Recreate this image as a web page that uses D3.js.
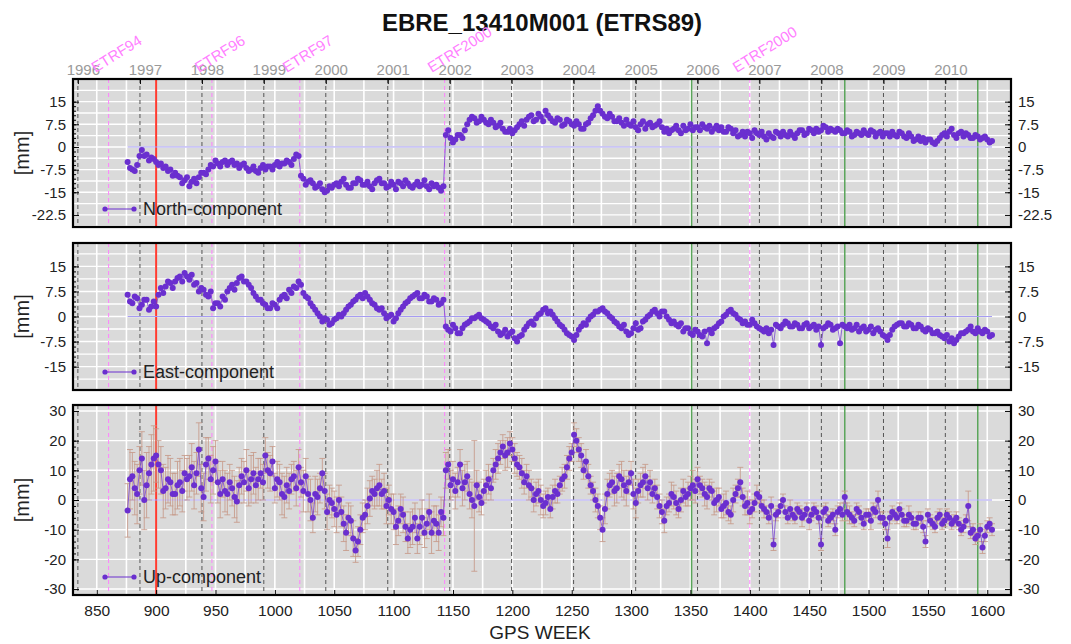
<!DOCTYPE html>
<html>
<head>
<meta charset="utf-8">
<script src="https://cdn.jsdelivr.net/npm/d3@7"></script>
<style>
  body { margin: 0; background: #fff; }
  text { font-family: "Liberation Sans", Arial, sans-serif; }
</style>
</head>
<body>
<svg id="chart" width="1071" height="644"></svg>
<script>
// solutions: "A" arrays at GPS weeks 876, 880, 884 ...,
// "B" arrays at the weeks in between (878, 882, ... 1602)
const startA = 876, startB = 878, stepWeek = 4;

const northA = [
  -5, -7.5, -6, -1, -2.5, -3.5, -5, -5.5, -6.5, -7.5,
  -8.5, -10, -11, -13, -10.5, -10, -8.5, -7.5, -6.5, -5.5,
  -5, -6, -4.5, -5.5, -6, -7, -7.5, -8, -7, -7.5,
  -6.5, -6, -6.5, -5.5, -5, -4, -3, -10.5, -11.5, -12,
  -13, -14, -14.5, -13.5, -12, -11.5, -12.5, -13.5, -12, -11,
  -12.5, -13, -12, -10.5, -12, -13, -12.5, -11.5, -13, -12,
  -13.5, -11.5, -12.5, -13, -12, -12.5, -14.5, 4, 3, 2.5,
  4, 5.5, 9, 9.5, 8.5, 9, 7.5, 8, 7, 6,
  5, 4.5, 6.5, 8.5, 9, 10.5, 9, 10, 12, 9.5,
  8, 9, 7.5, 8.5, 7, 7.5, 6, 8, 10.5, 13.5,
  11, 9.5, 10, 8.5, 8, 9, 7, 6.5, 7.5, 6,
  8, 7, 8.5, 5, 4.5, 6, 5.5, 7, 6, 5.5,
  6.5, 7.5, 6, 5, 7, 6.5, 5, 6, 5.5, 4,
  3.5, 4.5, 5.5, 4, 3.5, 4.5, 3, 4.5, 5, 3.5,
  4, 4.5, 5.5, 4.5, 5.5, 6, 5.5, 6.5, 6, 5,
  5.5, 4.5, 5, 4, 4.5, 5.5, 4, 5, 4.5, 3.5,
  4.5, 5, 3.5, 4.5, 3, 3.5, 2.5, 2, 1.5, 2.5,
  1, 3, 4.5, 5, 4, 4.5, 3.5, 4, 3, 3.5,
  3, 2.5, 2
];
const northB = [
  -7, -8, -3, -3, -4.5, -4, -6, -7, -8, -9.5,
  -9.5, -12, -10, -11.5, -12, -8.5, -9, -6, -4.5, -6.5,
  -4.5, -5, -6, -7, -5.5, -8, -6.5, -8.5, -6, -6.5,
  -7.5, -5, -5.5, -4.5, -6, -2.5, -9.5, -12.5, -11, -13.5,
  -12, -15, -13, -12.5, -13, -10.5, -13.5, -12, -10.5, -12.5,
  -11.5, -14, -11, -12, -13.5, -11.5, -14, -12, -11, -13,
  -12.5, -13, -11, -14, -13, -13.5, -13, 5.5, 1.5, 4,
  3, 7.5, 10, 8, 10, 8, 9, 6.5, 8, 5,
  6, 5.5, 7.5, 7, 10, 8.5, 11, 8.5, 10.5, 8.5,
  9.5, 7, 9, 7.5, 8.5, 6, 7.5, 9.5, 12, 12,
  10, 11, 8.5, 9.5, 7, 7.5, 8.5, 5.5, 8.5, 7.5,
  6.5, 7.5, 6.5, 6, 5.5, 7, 4.5, 5.5, 7.5, 6.5,
  5.5, 6.5, 7, 6, 5.5, 5, 6.5, 4.5, 3.5, 5,
  5, 3, 4.5, 5, 2.5, 3.5, 5, 3.5, 4, 5,
  3, 5.5, 4, 6, 4.5, 5, 7, 5, 5.5, 6,
  4.5, 5.5, 3.5, 5, 4, 4.5, 5.5, 3.5, 5, 4.5,
  3.5, 4, 5, 3.5, 4.5, 2, 3.5, 3, 2.5, 1.5,
  2, 4, 3.5, 6, 3, 5, 4.5, 3, 4, 2.5,
  3.5, 1.5
];

const eastA = [
  6.5, 4, 5.5, 3.5, 5, 3, 3, 8.5, 9, 10,
  10.5, 12, 13, 11, 9.5, 7.5, 8, 6, 2.5, 4,
  6, 7.5, 9.5, 10, 12, 10.5, 8.5, 6, 5, 3.5,
  2.5, 3.5, 5, 6.5, 8, 9, 10.5, 7, 5.5, 3,
  1, -1.5, -1, -2, -0.5, 0, 2, 3.5, 5, 6.5,
  7, 5, 3.5, 2, 1, 0, -1.5, 1, 3, 4.5,
  6, 7, 5.5, 6, 4.5, 5, 4, -3, -4.5, -3.5,
  -5, -2.5, -1.5, -0.5, 0.5, -1, -2, -3.5, -4.5, -5,
  -6, -4.5, -7.5, -5.5, -3, -1.5, -0.5, 1, 2.5, 1.5,
  -0.5, -2.5, -4, -5.5, -7, -4, -2, -1, 0.5, 1.5,
  2.5, 1, -0.5, -2, -3.5, -4.5, -5, -2, -3.5, -1,
  0.5, 2, 0, 1.5, -1, -1.5, -3, -4.5, -3.5, -5.5,
  -4.5, -6, -8, -5, -3, -1.5, 0.5, 2, 0.5, -1,
  -1.5, -2.5, -2, -3.5, -4.5, -5, -8.5, -3, -2.5, -2,
  -3, -2.5, -3.5, -2, -3, -4, -8.5, -3, -2.5, -3.5,
  -8, -3, -2.5, -3.5, -4.5, -3, -4, -5, -3.5, -5.5,
  -7, -4, -2.5, -2, -3, -2.5, -3.5, -3, -4.5, -4,
  -5, -5.5, -6.5, -7.5, -8, -6, -5, -4, -4.5, -3.5,
  -5, -4.5, -5.5
];
const eastB = [
  4.5, 6, 2.5, 5, 2, 4.5, 6.5, 7, 10.5, 8.5,
  11.5, 10.5, 12, 12.5, 10, 8.5, 6.5, 7.5, 4, 3,
  5, 8.5, 8, 11.5, 10.5, 9.5, 7, 5, 4, 2.5,
  4, 2.5, 6, 5.5, 7, 8.5, 9.5, 6, 4, 2,
  0, -0.5, -2.5, -1, 0.5, 1, 3, 4.5, 6, 5.5,
  6, 4, 2.5, 2.5, -0.5, 0.5, -0.5, 2, 4, 5.5,
  6.5, 5.5, 6.5, 4.5, 5.5, 3.5, 5, -4, -2.5, -5,
  -3.5, -2, -0.5, 0, -0.5, -1.5, -3, -2.5, -5.5, -4,
  -5, -6.5, -6, -4, -2, -2.5, 0.5, 2, 1, 0.5,
  -1.5, -3, -5, -6, -5.5, -3, -2.5, 0, 1.5, 2,
  1.5, 0, -1.5, -3, -2.5, -5.5, -3.5, -4, -1.5, 0,
  1.5, 1, 1.5, 0, -2, -2.5, -2, -3.5, -5, -4,
  -5.5, -4.5, -4, -3.5, -2, 0, 1.5, 1, -0.5, -2,
  -2.5, -1, -3, -4, -3.5, -4, -2.5, -3.5, -1.5, -3,
  -2, -3.5, -2.5, -3.5, -2.5, -3, -3.5, -2, -4, -3,
  -2.5, -3.5, -4, -2.5, -3.5, -4.5, -3, -4, -4.5, -6,
  -5.5, -3, -2, -3, -2, -3.5, -2.5, -4, -3.5, -5,
  -4.5, -6, -5.5, -6.5, -7, -5, -4.5, -3, -5, -4.5,
  -4, -6
];

const upA = [
  -3.5, 8, 2, 14, 5, 12, 15, 10, 4, 6,
  2, 6, 9, 8, 5, 17, 1, 14, 10, 6,
  7, 2, 4, -0.5, 8, 10, 7, 5, 9, 15,
  9, 4, 6, 1, 3, 8, 11, 3, 2, -6,
  1, 9, -4, -1, -5, -4, -11, -7, -17, -10,
  -5, 0.5, 2, 5, 3, 0, -4, -7, -5, -13,
  -9, -13, -6, -8, -11, -8, -4, 10, 5, 3,
  12, 6, 2, -2, 1, 3, 7, 10, 14, 18,
  16, 17, 12, 9, 8, 4, 2, 0, -1, -3,
  3, 5, 8, 14, 22, 17, 10, 8, 3, -2,
  -10, 2, 6, 4, 7, 3, 9, -1, 5, 8,
  6, 4, -2, -7, -1, 1, -3, 3, 2, 5,
  7, 4, 1, 3, 0, -3, -1, -5, 2, 6,
  -2, -4, -1, 1, -3, -6, -15, -4, 0, -6,
  -5, -3, -6, -3, -5, -4, -15, -3, -6, -10,
  -3, 1, -5, -7, -4, -8, -5, -3, 0, -6,
  -13, -4, -6, -5, -7, -6, -8, -6, -14, -7,
  -9, -5, -7, -6, -7, -8, -9, -2, -10, -12,
  -16, -9, -10
];
const upB = [
  7, 4, 10, 0, 9, 14, 12, 3, 7, 2,
  5, 3, 7, 11, 9, 4, 12, 7, 13, 2,
  3, 6, 1, 5, 6, 4, 9, 7, 6, 10,
  13, 7, 2, 5, 7, 4, 6, 8, 0, 2,
  4, 3, 0, -3, 0, -8, -6, -13, -14, -6,
  -2, 3, 4, 2, -2, -3, -9, -3, -9, -10,
  -6, -9, -11, -4, -7, -11, -6, 12, 7, 6,
  4, 8, 0, 5, -1, 5, 4, 12, 16, 15,
  19, 14, 11, 6, 5, 0, 3, -2, 1, 1,
  2, 7, 11, 16, 20, 15, 13, 5, 0, -6,
  -3, 5, 3, 8, 5, 6, 2, 3, 6, 4,
  2, 1, -4, -2, 2, -1, 0, 1, 4, 3,
  5, 2, 4, -1, 1, -2, -4, 0, 4, 1,
  -1, -3, 2, -2, -4, -2, -5, -2, -4, -3,
  -6, -4, -5, -7, -3, -6, -4, -7, -5, -4,
  -5, -4, -6, -3, -6, -5, -7, -4, -6, -8,
  -6, -5, -3, -7, -5, -8, -6, -9, -5, -8,
  -6, -8, -5, -8, -6, -10, -7, -11, -13, -10,
  -12, -8
];

const upErrA = [
  9, 8, 10, 9, 11, 10, 9, 8, 7, 8,
  7, 8, 6, 7, 8, 9, 8, 7, 8, 7,
  6, 7, 6, 7, 6, 7, 8, 6, 5, 6,
  6, 5, 6, 7, 6, 5, 6, 7, 6, 5,
  6, 5, 6, 5, 6, 5, 6, 5, 4, 5,
  5, 6, 5, 7, 6, 5, 6, 5, 6, 5,
  6, 5, 6, 5, 7, 6, 5, 6, 5, 6,
  5, 6, 5, 22, 5, 4, 5, 4, 5, 4,
  5, 4, 4, 5, 4, 3, 4, 5, 4, 3,
  4, 3, 4, 4, 4, 4, 3, 4, 3, 4,
  4, 5, 4, 5, 6, 5, 4, 5, 4, 4,
  4, 3, 4, 4, 3, 4, 3, 4, 4, 5,
  4, 3, 4, 3, 4, 3, 4, 3, 3, 5,
  3, 4, 3, 2, 3, 2, 2, 2, 2, 2,
  2, 2, 3, 2, 2, 2, 2, 2, 2, 2,
  2, 2, 3, 2, 2, 2, 2, 2, 3, 2,
  3, 2, 2, 2, 2, 2, 2, 2, 2, 2,
  2, 2, 2, 2, 2, 2, 2, 5, 2, 2,
  2, 2, 2
];
const upErrB = [
  10, 9, 8, 10, 9, 11, 8, 9, 8, 7,
  8, 7, 7, 8, 7, 8, 9, 8, 7, 8,
  7, 6, 7, 6, 7, 6, 7, 7, 6, 6,
  5, 6, 7, 6, 5, 6, 5, 6, 7, 6,
  5, 6, 5, 6, 5, 6, 5, 6, 5, 5,
  6, 5, 6, 5, 6, 5, 6, 5, 5, 6,
  5, 6, 5, 6, 5, 6, 6, 5, 6, 5,
  6, 5, 6, 5, 4, 5, 4, 5, 4, 5,
  4, 5, 4, 4, 5, 4, 4, 4, 3, 4,
  3, 4, 4, 3, 4, 4, 4, 3, 4, 4,
  5, 4, 5, 4, 5, 4, 5, 4, 5, 4,
  3, 4, 4, 3, 4, 4, 4, 3, 4, 4,
  3, 4, 3, 4, 3, 4, 3, 4, 3, 3,
  4, 3, 3, 2, 2, 3, 2, 2, 2, 3,
  2, 2, 2, 3, 2, 2, 2, 2, 2, 2,
  2, 3, 2, 2, 2, 2, 3, 2, 2, 2,
  2, 2, 2, 2, 3, 2, 2, 2, 2, 2,
  2, 2, 2, 2, 2, 2, 2, 2, 2, 2,
  2, 2
];

const yearLabels = [1996, 1997, 1998, 1999, 2000, 2001, 2002, 2003, 2004, 2005, 2006, 2007, 2008, 2009, 2010];
const yearWeeks = [834.1, 886.4, 938.6, 990.7, 1042.9, 1095.1, 1147.3, 1199.4, 1251.6, 1303.9, 1356, 1408.1, 1460.3, 1512.6, 1564.7];
const etrfNames = ["ETRF94", "ETRF96", "ETRF97", "ETRF2000", "ETRF2000"];
const etrfWeeks = [860, 947, 1021, 1143, 1400];
const redWeeks = [900];
const greenWeeks = [1351, 1480, 1592];
const weekTicks = [850, 900, 950, 1000, 1050, 1100, 1150, 1200, 1250, 1300, 1350, 1400, 1450, 1500, 1550, 1600];
const northTicks = [15, 7.5, 0, -7.5, -15, -22.5];
const eastTicks = [15, 7.5, 0, -7.5, -15];
const upTicks = [30, 20, 10, 0, -10, -20, -30];

function merge(a, b, ea, eb) {
  const out = [];
  a.forEach((v, i) => out.push({ w: startA + i * stepWeek, v: v, e: ea ? ea[i] : 0 }));
  b.forEach((v, i) => out.push({ w: startB + i * stepWeek, v: v, e: eb ? eb[i] : 0 }));
  return out.sort((p, q) => p.w - q.w);
}

const svg = d3.select("#chart");
const left = 73, right = 1011;
const x = d3.scaleLinear().domain([830, 1620]).range([left, right]);

const dotColor = "#6a2fcf";
const fmt = d => String(d);

const panels = [
  { name: "North-component", pts: merge(northA, northB), top: 79, bottom: 227, domain: [-26.5, 22.5], ticks: northTicks, step: 7.5, minorGrid: true },
  { name: "East-component", pts: merge(eastA, eastB), top: 243, bottom: 390, domain: [-22, 22], ticks: eastTicks, step: 7.5, minorGrid: true },
  { name: "Up-component", pts: merge(upA, upB, upErrA, upErrB), err: true, top: 405, bottom: 595, domain: [-32, 32], ticks: upTicks, step: 10, minorGrid: false }
];

// title
svg.append("text")
  .attr("x", 542).attr("y", 31)
  .attr("text-anchor", "middle")
  .attr("font-size", 24).attr("font-weight", "bold")
  .attr("fill", "#111")
  .text("EBRE_13410M001 (ETRS89)");

panels.forEach(function(p, pi) {
  const y = d3.scaleLinear().domain(p.domain).range([p.bottom, p.top]);
  const g = svg.append("g");
  const clipId = "clip" + pi;
  const pts = p.pts;

  svg.append("clipPath").attr("id", clipId)
    .append("rect")
    .attr("x", left).attr("y", p.top)
    .attr("width", right - left).attr("height", p.bottom - p.top);

  g.append("rect")
    .attr("x", left).attr("y", p.top)
    .attr("width", right - left).attr("height", p.bottom - p.top)
    .attr("fill", "#dadada");

  const inner = g.append("g").attr("clip-path", "url(#" + clipId + ")");

  // white grid
  const vGrid = d3.range(850, 1601, 25);
  inner.selectAll(".vg").data(vGrid).join("line")
    .attr("x1", d => x(d)).attr("x2", d => x(d))
    .attr("y1", p.top).attr("y2", p.bottom)
    .attr("stroke", "#fff").attr("stroke-width", 1.6);

  let hGrid = d3.range(-4, 5).map(k => k * p.step);
  if (p.minorGrid) hGrid = d3.range(-8, 9).map(k => k * p.step / 2);
  inner.selectAll(".hg").data(hGrid).join("line")
    .attr("x1", left).attr("x2", right)
    .attr("y1", d => y(d)).attr("y2", d => y(d))
    .attr("stroke", "#fff").attr("stroke-width", 1.4);

  // year markers
  inner.selectAll(".yr").data(yearWeeks).join("line")
    .attr("x1", d => x(d)).attr("x2", d => x(d))
    .attr("y1", p.top).attr("y2", p.bottom)
    .attr("stroke", "#555").attr("stroke-width", 1)
    .attr("stroke-dasharray", "4,3");

  // reference frame changes
  inner.selectAll(".etrf").data(etrfWeeks).join("line")
    .attr("x1", d => x(d)).attr("x2", d => x(d))
    .attr("y1", p.top).attr("y2", p.bottom)
    .attr("stroke", "#ff80ff").attr("stroke-width", 1)
    .attr("stroke-dasharray", "4,3");

  inner.selectAll(".grn").data(greenWeeks).join("line")
    .attr("x1", d => x(d)).attr("x2", d => x(d))
    .attr("y1", p.top).attr("y2", p.bottom)
    .attr("stroke", "#5aa55a").attr("stroke-width", 1.5);

  inner.selectAll(".red").data(redWeeks).join("line")
    .attr("x1", d => x(d)).attr("x2", d => x(d))
    .attr("y1", p.top).attr("y2", p.bottom)
    .attr("stroke", "#ff3b30").attr("stroke-width", 2);

  // zero reference line over the data span
  inner.append("line")
    .attr("x1", x(pts[0].w)).attr("x2", x(pts[pts.length - 1].w))
    .attr("y1", y(0)).attr("y2", y(0))
    .attr("stroke", "#a69cf2").attr("stroke-width", 1);

  if (p.err) {
    const eb = inner.append("g").attr("stroke", "#c79a8a").attr("stroke-opacity", 0.85).attr("stroke-width", 1);
    eb.selectAll(".eb").data(pts).join("line")
      .attr("x1", d => x(d.w)).attr("x2", d => x(d.w))
      .attr("y1", d => y(d.v - d.e)).attr("y2", d => y(d.v + d.e));
    eb.selectAll(".ct").data(pts).join("line")
      .attr("x1", d => x(d.w) - 3).attr("x2", d => x(d.w) + 3)
      .attr("y1", d => y(d.v + d.e)).attr("y2", d => y(d.v + d.e));
    eb.selectAll(".cb").data(pts).join("line")
      .attr("x1", d => x(d.w) - 3).attr("x2", d => x(d.w) + 3)
      .attr("y1", d => y(d.v - d.e)).attr("y2", d => y(d.v - d.e));
  }

  const line = d3.line().x(d => x(d.w)).y(d => y(d.v));
  inner.append("path").datum(pts)
    .attr("d", line)
    .attr("fill", "none")
    .attr("stroke", dotColor).attr("stroke-width", 1).attr("stroke-opacity", 0.7);

  inner.selectAll(".pt").data(pts).join("circle")
    .attr("cx", d => x(d.w)).attr("cy", d => y(d.v))
    .attr("r", 3)
    .attr("fill", dotColor);

  // legend
  const ly = p.bottom - 18;
  g.append("line")
    .attr("x1", 105).attr("x2", 134).attr("y1", ly).attr("y2", ly)
    .attr("stroke", dotColor).attr("stroke-width", 1);
  g.selectAll(".lg").data([105, 134]).join("circle")
    .attr("cx", d => d).attr("cy", ly).attr("r", 2.6).attr("fill", dotColor);
  g.append("text")
    .attr("x", 143).attr("y", ly + 6)
    .attr("font-size", 18).attr("fill", "#222")
    .text(p.name);

  // inward frame ticks
  const minorY = d3.range(-10, 11).map(k => k * p.step / 5).filter(d => d >= p.domain[0] && d <= p.domain[1]);
  g.append("g").attr("transform", "translate(" + left + ",0)")
    .call(d3.axisLeft(y).tickValues(minorY).tickSize(-3).tickFormat(""))
    .call(s => s.select(".domain").remove());
  g.append("g").attr("transform", "translate(" + right + ",0)")
    .call(d3.axisRight(y).tickValues(minorY).tickSize(-3).tickFormat(""))
    .call(s => s.select(".domain").remove());

  // tick labels
  const yl = g.append("g").attr("transform", "translate(" + left + ",0)")
    .call(d3.axisLeft(y).tickValues(p.ticks).tickSize(-6).tickPadding(7).tickFormat(fmt));
  const yr = g.append("g").attr("transform", "translate(" + right + ",0)")
    .call(d3.axisRight(y).tickValues(p.ticks).tickSize(-6).tickPadding(7).tickFormat(fmt));
  [yl, yr].forEach(a => {
    a.select(".domain").remove();
    a.selectAll("text").attr("font-size", 15).attr("fill", "#222")
      .style("font-family", "'Liberation Sans', Arial, sans-serif");
  });

  if (pi === 0) {
    const ta = g.append("g").attr("transform", "translate(0," + p.top + ")")
      .call(d3.axisTop(x).tickValues(yearWeeks).tickSize(-5).tickPadding(4)
        .tickFormat((d, i) => yearLabels[i]));
    ta.select(".domain").remove();
    ta.selectAll("text").attr("font-size", 15).attr("fill", "#9a9a9a").attr("dx", 5)
      .style("font-family", "'Liberation Sans', Arial, sans-serif");

    svg.selectAll(".etrfl").data(etrfWeeks).join("text")
      .attr("transform", d => "translate(" + (x(d) - 13) + ",73) rotate(-32)")
      .attr("font-size", 15).attr("fill", "#ff80ff")
      .text((d, i) => etrfNames[i]);
  }

  if (pi === 2) {
    const ba = g.append("g").attr("transform", "translate(0," + p.bottom + ")")
      .call(d3.axisBottom(x).tickValues(weekTicks).tickSize(-5).tickPadding(10).tickFormat(fmt));
    ba.select(".domain").remove();
    ba.selectAll("text").attr("font-size", 15.5).attr("fill", "#222")
      .style("font-family", "'Liberation Sans', Arial, sans-serif");
  }

  // frame
  g.append("rect")
    .attr("x", left).attr("y", p.top)
    .attr("width", right - left).attr("height", p.bottom - p.top)
    .attr("fill", "none").attr("stroke", "#000").attr("stroke-width", 2.2);

  // y label
  g.append("text")
    .attr("transform", "translate(29," + ((p.top + p.bottom) / 2) + ") rotate(-90)")
    .attr("text-anchor", "middle")
    .attr("font-size", 20).attr("fill", "#222")
    .text("[mm]");
});

svg.append("text")
  .attr("x", 540).attr("y", 639)
  .attr("text-anchor", "middle")
  .attr("font-size", 19).attr("fill", "#222")
  .text("GPS WEEK");
</script>
</body>
</html>
